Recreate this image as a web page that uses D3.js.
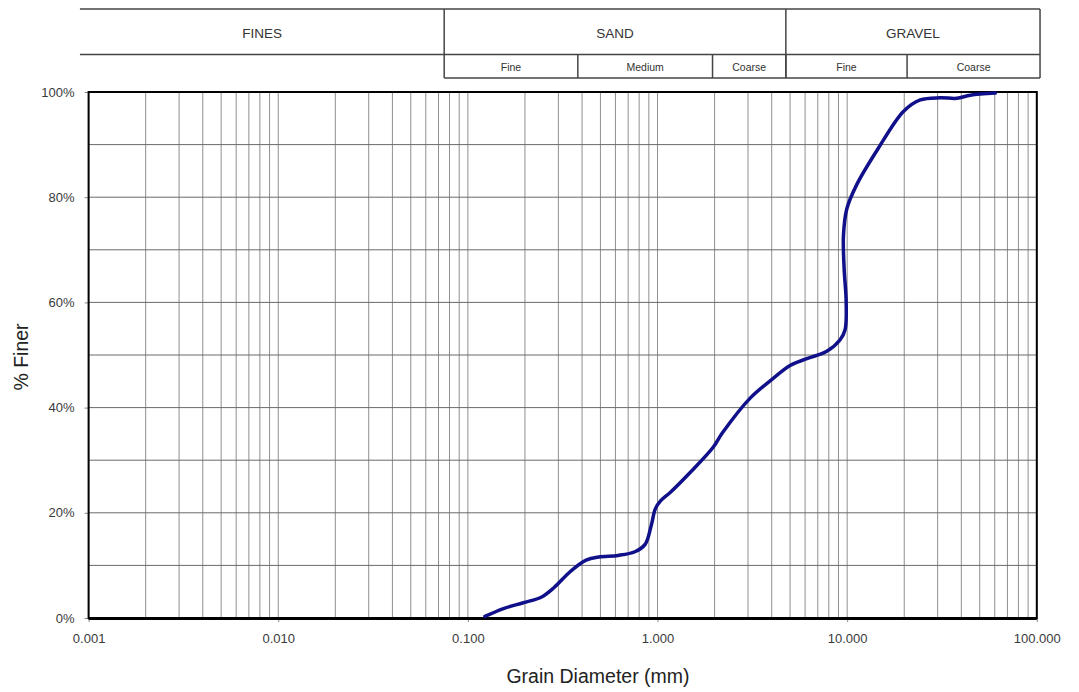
<!DOCTYPE html>
<html>
<head>
<meta charset="utf-8">
<script src="https://cdn.jsdelivr.net/npm/d3@7"></script>
<style>
  body { margin: 0; background: #ffffff; }
  text { font-family: "Liberation Sans", Arial, sans-serif; }
</style>
</head>
<body>
<div id="chart"></div>
<script>
// gradation curve
var grainSize = [0.123, 0.154, 0.196, 0.245, 0.285, 0.346, 0.42, 0.49, 0.62, 0.76, 0.86, 0.925, 0.975,
  1.04, 1.17, 1.49, 1.97, 2.2, 3.08, 4.09, 5.0, 6.13, 7.81, 9.18, 9.75, 9.88, 9.64, 9.56, 9.96,
  11.2, 14.6, 19.8, 24.3, 30.9, 37.9, 44.6, 60.4];
var percentFiner = [0.3, 1.8, 2.9, 4.0, 5.8, 8.8, 11.0, 11.6, 11.9, 12.6, 14.0, 17.5, 20.8,
  22.3, 23.9, 27.7, 32.5, 35.2, 41.8, 45.6, 48.0, 49.3, 50.7, 52.9, 54.8, 60.1, 66.4, 72.7, 77.8,
  82.3, 89.3, 96.3, 98.5, 98.9, 98.8, 99.4, 99.8];

var yTicks = [0, 20, 40, 60, 80, 100];
var xTicks = [0.001, 0.01, 0.1, 1, 10, 100];
var xTickLabels = ["0.001", "0.010", "0.100", "1.000", "10.000", "100.000"];

// soil classification header (edges in mm)
var soilGroups = ["FINES", "SAND", "GRAVEL"];
var groupEdges = [0.0009, 0.075, 4.75, 104];
var subGroups = ["Fine", "Medium", "Coarse", "Fine", "Coarse"];
var subEdges = [0.075, 0.38, 1.95, 4.75, 20.7, 104];

var W = 1079, H = 692;
var svg = d3.select("#chart").append("svg").attr("width", W).attr("height", H);

var x = d3.scaleLog().domain([0.001, 100]).range([88.6, 1036.8]);
var y = d3.scaleLinear().domain([0, 100]).range([618, 92]);

// header table
var hTop = 9, hMid = 54.5, hBot = 78;
var head = svg.append("g");
head.append("line").attr("x1", x(groupEdges[0])).attr("x2", x(groupEdges[3]))
  .attr("y1", hTop).attr("y2", hTop).attr("stroke", "#444").attr("stroke-width", 1.5);
head.append("line").attr("x1", x(groupEdges[0])).attr("x2", x(groupEdges[3]))
  .attr("y1", hMid).attr("y2", hMid).attr("stroke", "#444").attr("stroke-width", 1.5);
head.append("line").attr("x1", x(subEdges[0])).attr("x2", x(subEdges[5]))
  .attr("y1", hBot).attr("y2", hBot).attr("stroke", "#444").attr("stroke-width", 1.5);

groupEdges.slice(1).forEach(function(e) {
  head.append("line").attr("x1", x(e)).attr("x2", x(e)).attr("y1", hTop).attr("y2", hBot)
    .attr("stroke", "#444").attr("stroke-width", 1.5);
});
subEdges.slice(1, 5).forEach(function(e) {
  head.append("line").attr("x1", x(e)).attr("x2", x(e)).attr("y1", hMid).attr("y2", hBot)
    .attr("stroke", "#444").attr("stroke-width", 1.5);
});

soilGroups.forEach(function(g, i) {
  head.append("text")
    .attr("x", (x(groupEdges[i]) + x(groupEdges[i + 1])) / 2)
    .attr("y", 37.5)
    .attr("text-anchor", "middle")
    .attr("font-size", 13.5)
    .attr("fill", "#333")
    .text(g);
});
subGroups.forEach(function(g, i) {
  head.append("text")
    .attr("x", (x(subEdges[i]) + x(subEdges[i + 1])) / 2)
    .attr("y", 70.5)
    .attr("text-anchor", "middle")
    .attr("font-size", 10.5)
    .attr("fill", "#333")
    .text(g);
});

// grid
var plot = svg.append("g");
var minor = [];
for (var dec = 0.001; dec < 99; dec *= 10) {
  for (var k = 2; k <= 9; k++) minor.push(k * dec);
}
plot.selectAll(".vgrid").data(minor.concat(xTicks)).enter().append("line")
  .attr("class", "vgrid")
  .attr("x1", function(d) { return x(d); })
  .attr("x2", function(d) { return x(d); })
  .attr("y1", y(100)).attr("y2", y(0))
  .attr("stroke", "#8f8f8f").attr("stroke-width", 1);

plot.selectAll(".hgrid").data(d3.range(10, 100, 10)).enter().append("line")
  .attr("class", "hgrid")
  .attr("x1", x(0.001)).attr("x2", x(100))
  .attr("y1", function(d) { return y(d); })
  .attr("y2", function(d) { return y(d); })
  .attr("stroke", "#6a6a6a").attr("stroke-width", 1);

// axes
var yAxis = d3.axisLeft(y).tickValues(yTicks).tickSize(4).tickPadding(10)
  .tickFormat(function(d) { return d + "%"; });
var gy = svg.append("g").attr("transform", "translate(" + x(0.001) + ",0)").call(yAxis);
gy.select(".domain").remove();
gy.selectAll("line").attr("stroke", "#888");
gy.selectAll("text").attr("font-size", 13).attr("fill", "#3a3a3a").attr("font-family", "Liberation Sans, Arial, sans-serif");

var xAxis = d3.axisBottom(x).tickValues(xTicks).tickSize(4).tickPadding(12)
  .tickFormat(function(d, i) { return xTickLabels[i]; });
var gx = svg.append("g").attr("transform", "translate(0," + y(0) + ")").call(xAxis);
gx.select(".domain").remove();
gx.selectAll("line").attr("stroke", "#888");
gx.selectAll("text").attr("font-size", 13).attr("fill", "#3a3a3a").attr("font-family", "Liberation Sans, Arial, sans-serif");

// plot frame
svg.append("rect")
  .attr("x", x(0.001)).attr("y", y(100))
  .attr("width", x(100) - x(0.001)).attr("height", y(0) - y(100))
  .attr("fill", "none").attr("stroke", "#000").attr("stroke-width", 2);
svg.append("line").attr("x1", x(0.001)).attr("x2", x(100)).attr("y1", y(0) + 1).attr("y2", y(0) + 1)
  .attr("stroke", "#000").attr("stroke-width", 2);

// curve
var pts = grainSize.map(function(d, i) { return [d, percentFiner[i]]; });
var line = d3.line()
  .x(function(d) { return x(d[0]); })
  .y(function(d) { return y(d[1]); })
  .curve(d3.curveCatmullRom.alpha(0.5));
svg.append("path").datum(pts)
  .attr("d", line)
  .attr("fill", "none")
  .attr("stroke", "#10108a")
  .attr("stroke-width", 3.5)
  .attr("stroke-linecap", "round");

// titles
svg.append("text")
  .attr("x", 598).attr("y", 683)
  .attr("text-anchor", "middle")
  .attr("font-size", 19.5)
  .attr("fill", "#222")
  .text("Grain Diameter (mm)");
svg.append("text")
  .attr("transform", "translate(28," + (y(50) + 2) + ") rotate(-90)")
  .attr("text-anchor", "middle")
  .attr("font-size", 19.5)
  .attr("fill", "#222")
  .text("% Finer");
</script>
</body>
</html>
